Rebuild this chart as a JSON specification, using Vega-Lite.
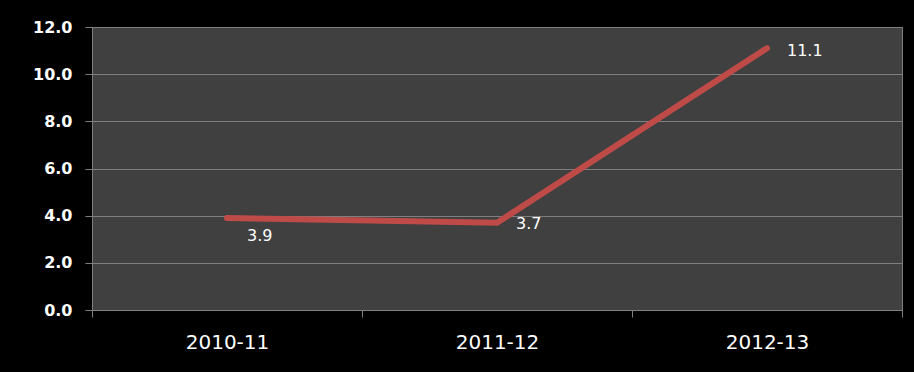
{
  "$schema": "https://vega.github.io/schema/vega-lite/v6.json",
  "width": 810,
  "height": 283,
  "autosize": {"type": "none"},
  "padding": {"left": 92, "top": 27, "right": 12, "bottom": 62},
  "background": "#000000",
  "config": {
    "view": {"fill": "#404040", "stroke": "#7f7f7f", "strokeWidth": 1}
  },
  "data": {
    "values": [
      {"period": "2010-11", "value": 3.9},
      {"period": "2011-12", "value": 3.7},
      {"period": "2012-13", "value": 11.1}
    ]
  },
  "encoding": {
    "x": {
      "field": "period",
      "type": "nominal",
      "bandPosition": 0.5,
      "scale": {"type": "band", "paddingInner": 0, "paddingOuter": 0},
      "axis": {
        "title": null,
        "labelAngle": 0,
        "tickBand": "extent",
        "grid": false,
        "domainColor": "#7f7f7f",
        "tickColor": "#7f7f7f",
        "tickSize": 7,
        "labelColor": "#ffffff",
        "labelFont": "DejaVu Sans",
        "labelFontSize": 20,
        "labelPadding": 15
      }
    },
    "y": {
      "field": "value",
      "type": "quantitative",
      "scale": {"domain": [0, 12], "nice": false},
      "axis": {
        "title": null,
        "values": [0, 2, 4, 6, 8, 10, 12],
        "format": ".1f",
        "grid": true,
        "gridColor": "#7f7f7f",
        "domainColor": "#7f7f7f",
        "tickColor": "#7f7f7f",
        "tickSize": 7,
        "labelColor": "#ffffff",
        "labelFont": "DejaVu Sans",
        "labelFontWeight": "bold",
        "labelFontSize": 16,
        "labelPadding": 13
      }
    }
  },
  "layer": [
    {
      "mark": {"type": "line", "color": "#BE4B48", "strokeWidth": 6, "strokeCap": "round", "strokeJoin": "miter"}
    },
    {
      "transform": [{"filter": "datum.period == '2010-11'"}],
      "mark": {"type": "text", "align": "left", "baseline": "middle", "dx": 20, "dy": 18, "color": "#ffffff", "font": "DejaVu Sans", "fontSize": 16},
      "encoding": {"text": {"field": "value", "type": "quantitative", "format": ".1f"}}
    },
    {
      "transform": [{"filter": "datum.period == '2011-12'"}],
      "mark": {"type": "text", "align": "left", "baseline": "middle", "dx": 19, "dy": 1, "color": "#ffffff", "font": "DejaVu Sans", "fontSize": 16},
      "encoding": {"text": {"field": "value", "type": "quantitative", "format": ".1f"}}
    },
    {
      "transform": [{"filter": "datum.period == '2012-13'"}],
      "mark": {"type": "text", "align": "left", "baseline": "middle", "dx": 20, "dy": 3, "color": "#ffffff", "font": "DejaVu Sans", "fontSize": 16},
      "encoding": {"text": {"field": "value", "type": "quantitative", "format": ".1f"}}
    }
  ]
}
